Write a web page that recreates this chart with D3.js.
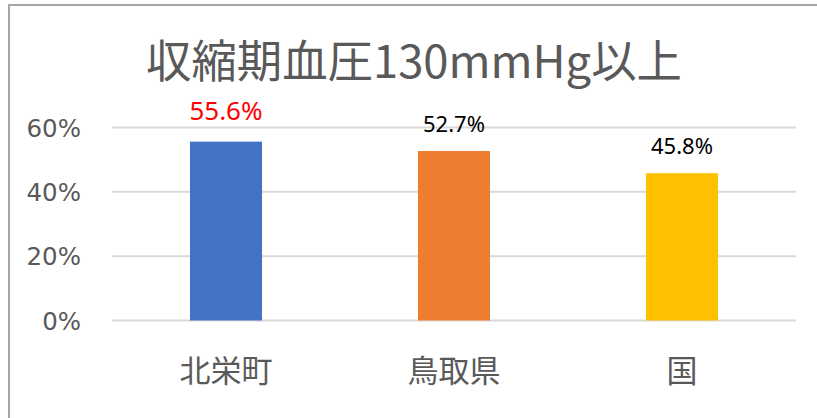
<!DOCTYPE html>
<html><head><meta charset="utf-8">
<script src="https://cdn.jsdelivr.net/npm/d3@7"></script>
<style>html,body{margin:0;padding:0;background:#fff;}svg{display:block;}</style>
</head><body>
<svg id="c" width="817" height="418"></svg>
<script>
const title = "収縮期血圧130mmHg以上";
const categories = ["北栄町", "鳥取県", "国"];
const values = [0.556, 0.527, 0.458];
const valueLabels = ["55.6%", "52.7%", "45.8%"];
const colors = ["#4472C4", "#ED7D31", "#FFC000"];
const yTicks = [0, 0.2, 0.4, 0.6];

const svg = d3.select("#c");
const W = 817, H = 418;
const plot = {left: 112, right: 796, top: 127.5, bottom: 320.5};

svg.append("rect").attr("width", W).attr("height", H).attr("fill", "#fff");
// frame
svg.append("path").attr("d", `M9,${H} V5 H${W}`).attr("fill", "none")
  .attr("stroke", "#a6a6a6").attr("stroke-width", 2);

const x = d3.scaleBand().domain(categories).range([plot.left, plot.right]).paddingInner(0.684).paddingOuter(0.342);
const y = d3.scaleLinear().domain([0, 0.6]).range([plot.bottom, plot.top]);

// gridlines
svg.append("g").selectAll("line").data(yTicks).join("line")
  .attr("x1", plot.left).attr("x2", plot.right)
  .attr("y1", d => y(d)).attr("y2", d => y(d))
  .attr("stroke", "#d9d9d9").attr("stroke-width", 2);

// y axis labels
const yAxis = d3.axisLeft(y).tickValues(yTicks).tickFormat(d3.format(".0%")).tickSize(0).tickPadding(0);
const gy = svg.append("g").attr("transform", "translate(81,0)").call(yAxis);
gy.select(".domain").remove();
gy.selectAll("text").attr("font-family", "'DejaVu Sans', sans-serif").attr("font-size", 24.5)
  .attr("fill", "#595959").attr("dy", "0.36em");

// bars
svg.append("g").selectAll("rect").data(values).join("rect")
  .attr("x", (d, i) => x(categories[i])).attr("width", x.bandwidth())
  .attr("y", d => y(d)).attr("height", d => y(0) - y(d))
  .attr("fill", (d, i) => colors[i]);

// value labels
svg.append("g").selectAll("text").data(values).join("text")
  .attr("x", (d, i) => x(categories[i]) + x.bandwidth() / 2)
  .attr("y", (d, i) => y(d) - (i === 0 ? 21.5 : 19))
  .attr("text-anchor", "middle")
  .attr("font-family", "'Noto Sans', sans-serif")
  .attr("font-size", (d, i) => i === 0 ? 26 : 22)
  .attr("fill", (d, i) => i === 0 ? "#FF0000" : "#000")
  .text((d, i) => valueLabels[i]);

// x axis labels
const xAxis = d3.axisBottom(x).tickSize(0).tickPadding(0);
const gx = svg.append("g").attr("transform", "translate(0,371)").call(xAxis);
gx.select(".domain").remove();
gx.selectAll("text").attr("font-family", "'Noto Sans CJK JP', sans-serif").attr("font-size", 31)
  .attr("fill", "#595959").attr("dy", "0.36em");

// title
svg.append("text").attr("x", 414).attr("y", 78).attr("text-anchor", "middle")
  .attr("font-family", "'Noto Sans CJK JP', sans-serif").attr("font-size", 45)
  .attr("textLength", 536).attr("lengthAdjust", "spacingAndGlyphs")
  .attr("fill", "#595959").text(title);
</script>
</body></html>
